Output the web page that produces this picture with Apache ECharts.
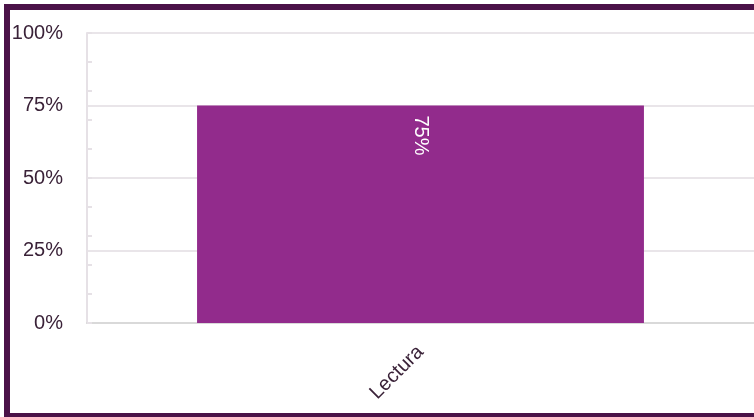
<!DOCTYPE html>
<html><head><meta charset="utf-8">
<script src="https://cdn.jsdelivr.net/npm/echarts@6/dist/echarts.min.js"></script>
<style>html,body{margin:0;padding:0;background:#fff}#c{width:754px;height:417px}</style>
</head><body><div id="c"></div>
<script>
var categories = ['Lectura'];
var values = [75];
var yTicks = [0, 25, 50, 75, 100];

var chart = echarts.init(document.getElementById('c'));
chart.setOption({
  animation: false,
  grid: {left: 87, right: 0, top: 33, bottom: 94},
  graphic: [{type: 'rect', shape: {x: 7, y: 7, width: 800, height: 409}, style: {fill: 'none', stroke: '#4b1248', lineWidth: 6}, z: 100}],
  xAxis: {
    type: 'category', data: categories,
    axisLine: {lineStyle: {color: '#d9d9d9', width: 2}},
    axisTick: {show: false},
    axisLabel: {rotate: 45, fontSize: 20, color: '#3a2238', fontFamily: 'Liberation Sans', margin: 26}
  },
  yAxis: [{
    type: 'value', min: yTicks[0], max: yTicks[yTicks.length - 1], interval: 25,
    axisLine: {show: true, lineStyle: {color: '#e6e1e6', width: 2}},
    axisTick: {show: false},
    splitLine: {lineStyle: {color: '#e9e5e9', width: 2}},
    axisLabel: {formatter: '{value}%', fontSize: 20, color: '#3a2238', fontFamily: 'Liberation Sans', margin: 24}
  }, {
    type: 'value', min: 0, max: 100, interval: 10, position: 'left',
    axisLine: {show: false},
    axisTick: {show: true, inside: true, length: 5, lineStyle: {color: '#e6e1e6', width: 2}},
    axisLabel: {show: false},
    splitLine: {show: false}
  }],
  series: [{
    type: 'bar', data: values, barWidth: '67%', yAxisIndex: 0,
    itemStyle: {color: '#922b8c'},
    label: {show: true, position: 'insideTop', rotate: -90, align: 'left', verticalAlign: 'middle', distance: 10,
      formatter: '{c}%', color: '#ffffff', fontSize: 20, fontFamily: 'Liberation Sans'}
  }]
});
</script></body></html>
